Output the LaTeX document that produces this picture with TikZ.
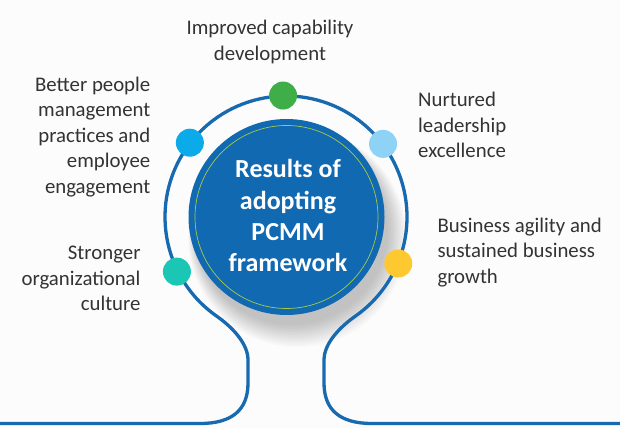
\documentclass[tikz,border=0pt]{standalone}
\usepackage{fontspec}
\setmainfont{Carlito}
\usetikzlibrary{calc}
\definecolor{ringblue}{HTML}{1769B0}
\definecolor{coreblue}{HTML}{1169B1}
\definecolor{innerline}{HTML}{A5CC45}
\definecolor{txt}{HTML}{333333}
\definecolor{dgreen}{HTML}{3FAE49}
\definecolor{dblue}{HTML}{0BAAE9}
\definecolor{dlight}{HTML}{8ED3F5}
\definecolor{dyellow}{HTML}{FDC830}
\definecolor{dteal}{HTML}{1BC6B4}
\definecolor{bg}{HTML}{FCFCFC}
\begin{document}
\begin{tikzpicture}[x=1pt,y=1pt,
  ring/.style={draw=ringblue,line width=3.3pt},
  dot/.style={circle,minimum size=28pt,inner sep=0pt,draw=none},
  lbl/.style={inner sep=0pt,text=txt,font=\fontsize{20.8}{25.5}\selectfont},
  core/.style={circle,fill=coreblue,minimum size=196pt,inner sep=0pt}]
\useasboundingbox (0,0) rectangle (620,428);
\fill[bg] (0,0) rectangle (620,428);
\coordinate (C) at (286,211);
% shadow
\foreach \k in {0,...,11}
  \fill[black,opacity=0.018] (292+\k*0.5,199-\k*0.8) circle[radius=96+\k*1.2];
% ring and bottom line
\draw[ring] (0,4.5) -- (200,4.5) .. controls (232,4.5) and (248,18) .. (248,45) -- (248,68)
  .. controls (248,85) and (231.3,101.6) .. (216.6,111.9)
  arc[start angle=235,end angle=-55,radius=121]
  .. controls (340.7,101.6) and (324,85) .. (324,68) -- (324,45)
  .. controls (324,18) and (340,4.5) .. (372,4.5) -- (620,4.5);
% core
\node[core] (core) at (286.5,211) {};
\draw[innerline,line width=0.7pt] (core.center) circle[radius=91.5];
\node[inner sep=0pt,anchor=north,text=white,align=center,font=\fontsize{26}{31.3}\selectfont\bfseries]
  (title) at (288,268.7) {Results of\\adopting\\PCMM\\framework};
% dots
\node[dot,fill=dgreen]  (dA) at ($(C)+(91.4:121.5)$) {};
\node[dot,fill=dblue]   (dB) at ($(C)+(142.3:121.5)$) {};
\node[dot,fill=dlight]  (dC) at ($(C)+(37:121.5)$) {};
\node[dot,fill=dyellow] (dD) at ($(C)+(-22.5:121.5)$) {};
\node[dot,fill=dteal]   (dE) at ($(C)+(206.6:122)$) {};
% labels
\node[lbl,anchor=north,align=center] (lA) at (270,408.1) {Improved capability\\development};
\node[lbl,anchor=north east,align=right] (lB) at (150.5,351.4) {Better people\\management\\practices and\\employee\\engagement};
\node[lbl,anchor=north west,align=left] (lC) at (418,336.1) {Nurtured\\leadership\\excellence};
\node[lbl,anchor=north west,align=left] (lD) at (437.3,210.4) {Business agility and\\sustained business\\growth};
\node[lbl,anchor=north east,align=right] (lE) at (140.7,182.1) {Stronger\\organizational\\culture};
\end{tikzpicture}
\end{document}
